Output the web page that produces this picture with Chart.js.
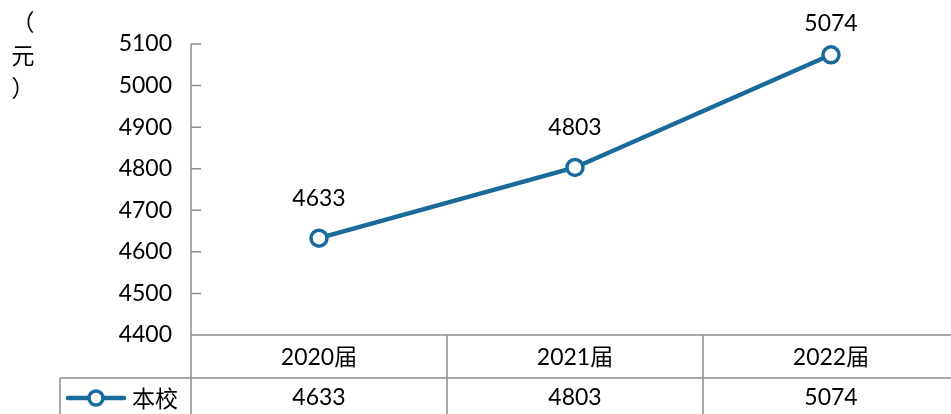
<!DOCTYPE html>
<html>
<head>
<meta charset="utf-8">
<script src="https://cdn.jsdelivr.net/npm/chart.js@4.4.1/dist/chart.umd.min.js"></script>
<style>
  html, body { margin: 0; padding: 0; background: #fff; overflow: hidden; }
</style>
</head>
<body>
<canvas id="incomeChart" width="960" height="414"></canvas>
<script>
// chart data
const categories = ["2020届", "2021届", "2022届"];
const seriesName = "本校";
const seriesValues = [4633, 4803, 5074];
const yTicks = [4400, 4500, 4600, 4700, 4800, 4900, 5000, 5100];
const unitLabel = ["（", "元", "）"];

const lineColor = "#1a6a9c";
const gridColor = "#8c8c8c";
const latinFont = "Lato, 'Noto Sans', sans-serif";
const cjkFont = "Lato, 'Noto Sans CJK SC', sans-serif";

// axis, data labels and the data table under the plot
const tablePlugin = {
    id: "tablePlugin",
    afterDraw(chart) {
        const ctx = chart.ctx;
        const area = chart.chartArea;
        const xs = chart.scales.x;
        const ys = chart.scales.y;
        const meta = chart.getDatasetMeta(0);
        const colW = (xs.right - xs.left) / categories.length;
        const row1 = area.bottom + 43;
        const row2 = chart.height;

        ctx.save();
        ctx.strokeStyle = gridColor;
        ctx.lineWidth = 1.5;

        // y axis line and inward ticks
        ctx.beginPath();
        ctx.moveTo(area.left, area.top);
        ctx.lineTo(area.left, row2);
        yTicks.forEach(v => {
            const y = ys.getPixelForValue(v);
            ctx.moveTo(area.left, y);
            ctx.lineTo(area.left + 10, y);
        });
        // table lines
        ctx.moveTo(area.left, area.bottom);
        ctx.lineTo(chart.width, area.bottom);
        ctx.moveTo(60, row1);
        ctx.lineTo(chart.width, row1);
        ctx.moveTo(60, row1);
        ctx.lineTo(60, row2);
        for (let i = 1; i < categories.length; i++) {
            const x = xs.left + colW * i;
            ctx.moveTo(x, area.bottom);
            ctx.lineTo(x, row2);
        }
        ctx.stroke();

        // table text
        ctx.fillStyle = "#000";
        ctx.textAlign = "center";
        ctx.textBaseline = "middle";
        categories.forEach((c, i) => {
            const x = xs.getPixelForValue(i);
            ctx.font = "23px " + cjkFont;
            ctx.fillText(c, x, (area.bottom + row1) / 2 + 1);
            ctx.font = "23px " + latinFont;
            ctx.fillText(String(seriesValues[i]), x, (row1 + row2) / 2 + 2);
        });

        // legend in table
        const ly = (row1 + row2) / 2 + 2;
        ctx.strokeStyle = lineColor;
        ctx.lineWidth = 4.5;
        ctx.lineCap = "round";
        ctx.beginPath();
        ctx.moveTo(68, ly);
        ctx.lineTo(124, ly);
        ctx.stroke();
        ctx.fillStyle = "#fff";
        ctx.lineWidth = 3.5;
        ctx.beginPath();
        ctx.arc(96, ly, 7, 0, Math.PI * 2);
        ctx.fill();
        ctx.stroke();
        ctx.fillStyle = "#000";
        ctx.textAlign = "left";
        ctx.font = "23px 'Noto Sans CJK SC', sans-serif";
        ctx.fillText(seriesName, 132, ly);

        // data labels above points
        ctx.textAlign = "center";
        ctx.font = "23px " + latinFont;
        meta.data.forEach((pt, i) => {
            ctx.fillText(String(seriesValues[i]), pt.x, Math.max(pt.y - 40, 24));
        });

        // unit label, stacked vertically
        ctx.font = "23px 'Noto Sans CJK SC', sans-serif";
        unitLabel.forEach((ch, i) => {
            ctx.fillText(ch, 23, 22 + i * 33);
        });
        ctx.restore();
    }
};

new Chart(document.getElementById("incomeChart"), {
    type: "line",
    data: {
        labels: categories,
        datasets: [{
            label: seriesName,
            data: seriesValues,
            borderColor: lineColor,
            borderWidth: 4.5,
            pointRadius: 8,
            pointBorderWidth: 3.5,
            pointBackgroundColor: "#fff",
            pointBorderColor: lineColor,
            tension: 0
        }]
    },
    options: {
        responsive: false,
        animation: false,
        layout: { autoPadding: false, padding: { left: 0, right: 1, top: 44, bottom: 79 } },
        plugins: {
            legend: { display: false },
            tooltip: { enabled: false }
        },
        scales: {
            x: {
                type: "category",
                offset: true,
                display: false
            },
            y: {
                min: 4400,
                max: 5100,
                afterFit(scale) { scale.width = 191; },
                afterBuildTicks(scale) { scale.ticks = yTicks.map(v => ({ value: v })); },
                border: { display: false },
                grid: { display: false, drawTicks: false },
                ticks: {
                    padding: 19,
                    color: "#000",
                    font: { size: 23, family: latinFont },
                    callback: v => String(v)
                }
            }
        }
    },
    plugins: [tablePlugin]
});
</script>
</body>
</html>
